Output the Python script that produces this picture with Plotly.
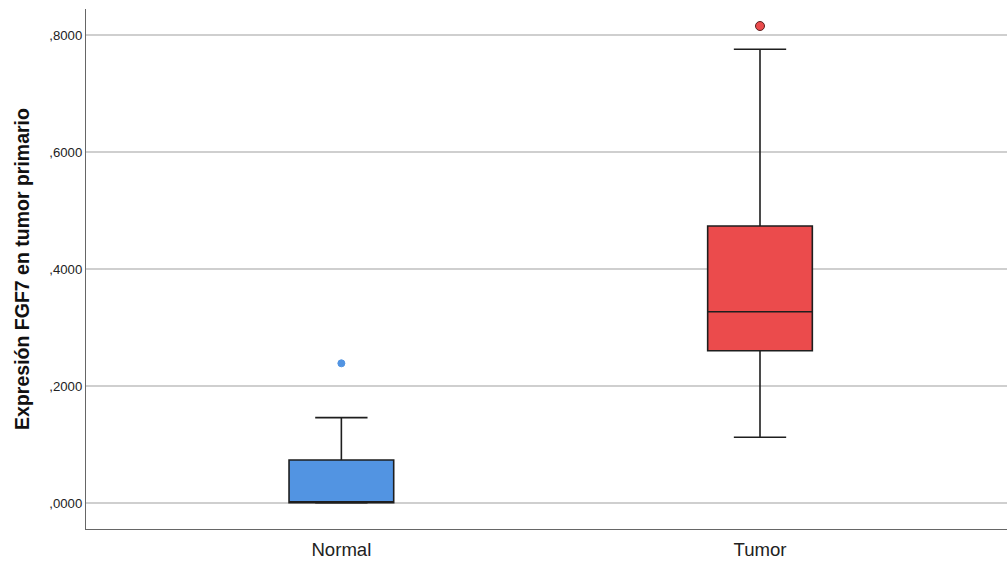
import plotly.graph_objects as go

# Box-plot summary statistics for FGF7 expression in primary tumour
groups = ["Normal", "Tumor"]
lower_whisker = [0.0, 0.1124]
q1 = [0.0005, 0.2606]
median = [0.0005, 0.3273]
q3 = [0.0736, 0.4740]
upper_whisker = [0.1460, 0.7763]
outliers = [[0.2390], [0.8162]]

fill_colors = ["#5294E2", "#EB4B4C"]
outlier_line = ["#5294E2", "#5a2020"]
outlier_size = [7, 9]

y_ticks = [0.0, 0.2, 0.4, 0.6, 0.8]
y_tick_text = [",0000", ",2000", ",4000", ",6000", ",8000"]

fig = go.Figure()

for i, g in enumerate(groups):
    fig.add_trace(go.Box(
        x=[i],
        q1=[q1[i]], median=[median[i]], q3=[q3[i]],
        lowerfence=[lower_whisker[i]], upperfence=[upper_whisker[i]],
        width=0.25,
        whiskerwidth=0.5,
        fillcolor=fill_colors[i],
        line=dict(color="#1e1e1e", width=1.6),
        boxpoints=False,
        hoverinfo="skip",
        showlegend=False,
        name=g,
    ))
    fig.add_trace(go.Scatter(
        x=[i] * len(outliers[i]), y=outliers[i],
        mode="markers",
        marker=dict(color=fill_colors[i], size=outlier_size[i],
                    line=dict(color=outlier_line[i], width=1)),
        showlegend=False,
        hoverinfo="skip",
    ))

fig.update_layout(
    width=1007, height=561,
    margin=dict(l=86, r=0, t=9, b=32),
    paper_bgcolor="white", plot_bgcolor="white",
    font=dict(family="Liberation Sans, Arial, sans-serif", color="#222"),
)

fig.update_xaxes(
    range=[-0.61, 1.59],
    tickvals=[0, 1], ticktext=groups,
    tickfont=dict(size=18.6, color="#222"),
    ticklabelstandoff=4,
    showgrid=False, zeroline=False,
    showline=True, linecolor="#666", linewidth=1.2,
    ticks="", ticklen=0,
)

fig.update_yaxes(
    range=[-0.0445, 0.8453],
    tickvals=y_ticks, ticktext=y_tick_text,
    tickfont=dict(size=13.2, color="#222"),
    showgrid=True, gridcolor="#cfcfcf", gridwidth=1.5,
    zeroline=False,
    showline=True, linecolor="#666", linewidth=1.2,
    ticks="", ticklen=0,
    title=dict(text="<b>Expresión FGF7 en tumor primario</b>",
               font=dict(size=19.5, color="#111"), standoff=14),
)

fig.write_html("out.html")
